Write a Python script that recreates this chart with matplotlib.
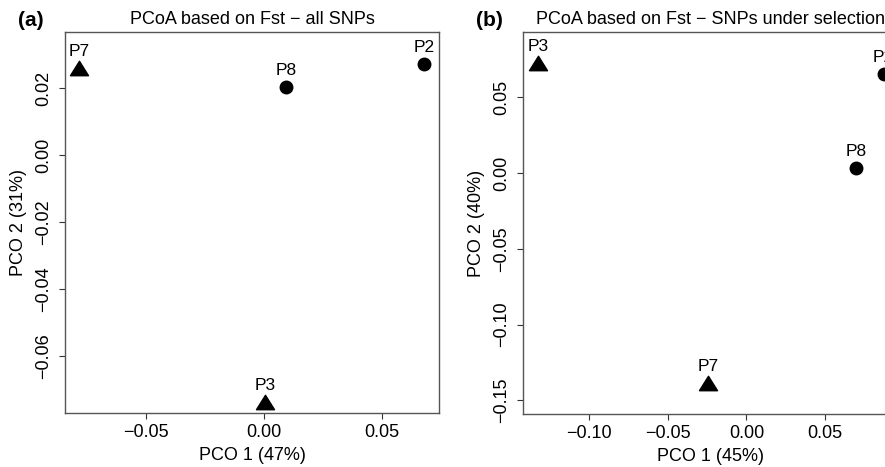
import matplotlib.pyplot as plt
from matplotlib.path import Path

plt.rcParams['font.family'] = ['Liberation Sans', 'DejaVu Sans']

# panel (a): all SNPs
labels_a = ["P7", "P8", "P2", "P3"]
pco1_a = [-0.0784, 0.0093, 0.0678, 0.0004]
pco2_a = [0.0260, 0.0203, 0.0272, -0.0737]
shape_a = ["tri", "circ", "circ", "tri"]

# panel (b): SNPs under selection
labels_b = ["P3", "P8", "P2", "P7"]
pco1_b = [-0.1324, 0.0697, 0.0872, -0.0246]
pco2_b = [0.0725, 0.0033, 0.0652, -0.1388]
shape_b = ["tri", "circ", "circ", "tri"]

xticks_a = [-0.05, 0.00, 0.05]
yticks_a = [-0.06, -0.04, -0.02, 0.00, 0.02]
xticks_b = [-0.10, -0.05, 0.00, 0.05]
yticks_b = [-0.15, -0.10, -0.05, 0.00, 0.05]

# R-like pch 17 triangle (wider than tall)
tri = Path([(0, 0.8), (-1, -0.8), (1, -0.8), (0, 0.8)],
           [Path.MOVETO, Path.LINETO, Path.LINETO, Path.CLOSEPOLY])


def panel(ax, xs, ys, labs, shapes, xlim, ylim, xt, yt, title, xlabel, ylabel, tag):
    for x, y, lab, s in zip(xs, ys, labs, shapes):
        if s == "tri":
            ax.plot(x, y, marker=tri, markersize=13, color="black", linestyle="none",
                    clip_on=False)
        else:
            ax.plot(x, y, marker="o", markersize=9, color="black", linestyle="none",
                    clip_on=False)
        ax.annotate(lab, (x, y), xytext=(0, 12), textcoords="offset points",
                    ha="center", va="center", fontsize=12.5, annotation_clip=False)
    ax.set_xlim(xlim)
    ax.set_ylim(ylim)
    ax.set_xticks(xt)
    ax.set_yticks(yt)
    ax.set_xticklabels([f"{v:.2f}".replace("-", "\u2212") for v in xt], fontsize=13)
    ax.set_yticklabels([f"{v:.2f}".replace("-", "\u2212") for v in yt], fontsize=13,
                       rotation=90, va="center")
    ax.tick_params(axis="x", length=4, width=0.8, pad=4, color="#333333")
    ax.tick_params(axis="y", length=4, width=0.8, pad=5, color="#333333")
    for sp in ax.spines.values():
        sp.set_color("#555555")
        sp.set_linewidth(1.0)
    ax.set_title(title, fontsize=13, pad=6)
    ax.set_xlabel(xlabel, fontsize=13, labelpad=4)
    ax.set_ylabel(ylabel, fontsize=13, labelpad=6)
    ax.text(-0.125, 1.005, tag, transform=ax.transAxes, fontsize=15,
            fontweight="bold", ha="left", va="bottom")


fig = plt.figure(figsize=(8.85, 4.67), dpi=100)
ax1 = fig.add_axes([0.0734, 0.1156, 0.4226, 0.8158])
ax2 = fig.add_axes([0.591, 0.1135, 0.4237, 0.8180])

panel(ax1, pco1_a, pco2_a, labels_a, shape_a, (-0.0843, 0.0742), (-0.077, 0.0367),
      xticks_a, yticks_a, "PCoA based on Fst \u2212 all SNPs",
      "PCO 1 (47%)", "PCO 2 (31%)", "(a)")
panel(ax2, pco1_b, pco2_b, labels_b, shape_b, (-0.1419, 0.0963), (-0.159, 0.093),
      xticks_b, yticks_b, "PCoA based on Fst \u2212 SNPs under selection",
      "PCO 1 (45%)", "PCO 2 (40%)", "(b)")

fig.savefig("out.png", dpi=100)
